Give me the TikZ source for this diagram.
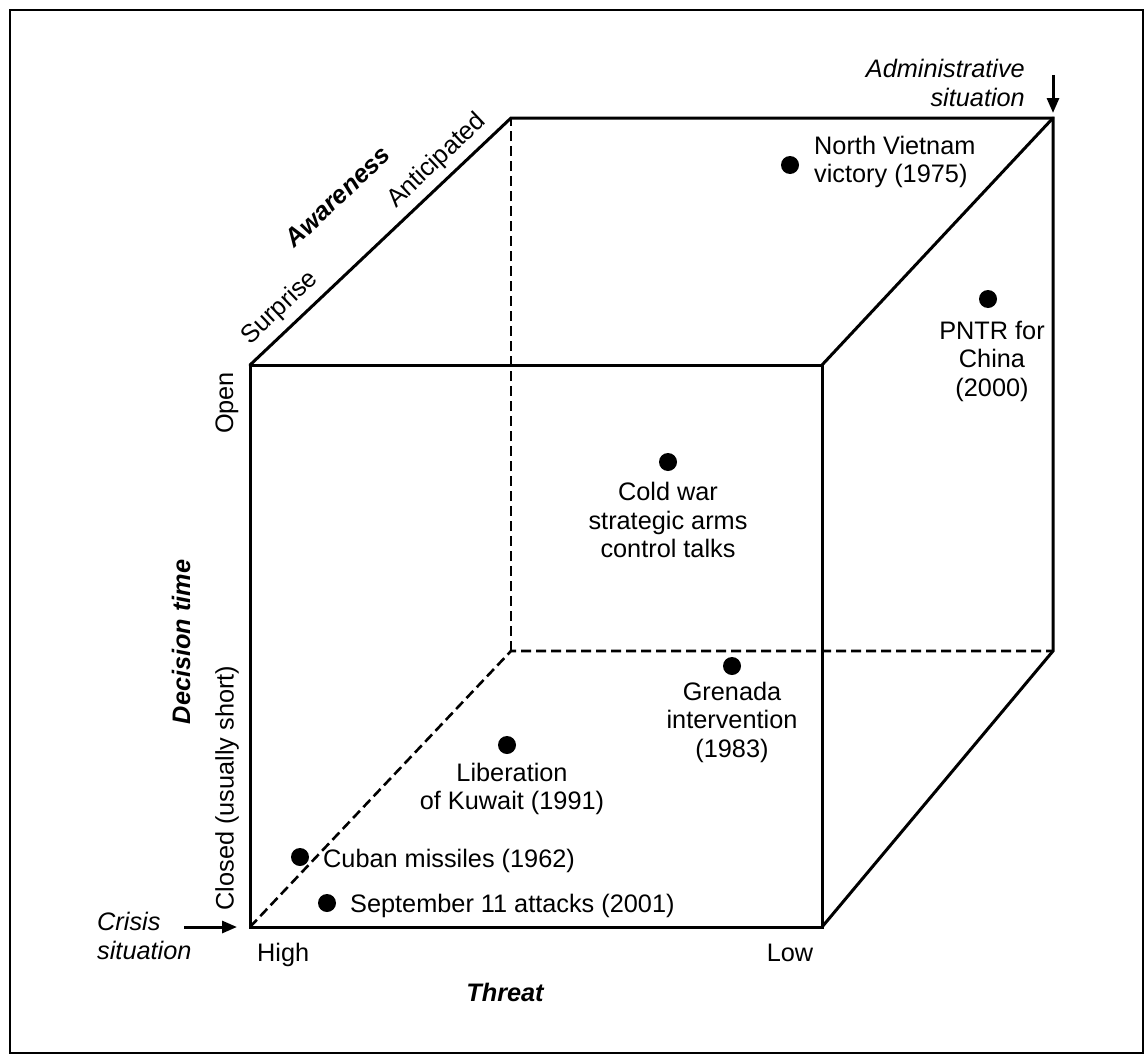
\documentclass[tikz,border=0pt]{standalone}
\usepackage{fontspec}
\setmainfont{Liberation Sans}
\usetikzlibrary{arrows.meta}
\begin{document}
\begin{tikzpicture}[x=1pt,y=-1pt,
  lbl/.style={inner sep=0pt, font=\fontsize{25.3}{28.5}\selectfont},
  ital/.style={lbl, font=\fontsize{25.3}{28.5}\selectfont\itshape},
  axis/.style={lbl, font=\fontsize{25.3}{28.5}\selectfont\bfseries\itshape},
  edge/.style={line width=3pt, line cap=round},
  hidden/.style={line width=2.6pt, dash pattern=on 10pt off 5pt},
  dot/.style={circle, fill=black, inner sep=0pt, minimum size=18pt},
  arr/.style={line width=3pt, -{Triangle[length=15pt,width=12pt]}}]
\useasboundingbox (0,0) rectangle (1146,1057);
\draw[line width=2.4pt] (10,10) rectangle (1143,1053);
% cube corners
\coordinate (F1) at (250,365);
\coordinate (F2) at (822,365);
\coordinate (F3) at (822,927);
\coordinate (F4) at (250,927);
\coordinate (B1) at (511,118);
\coordinate (B2) at (1053,118);
\coordinate (B3) at (1053,651);
\coordinate (B4) at (511,651);
% hidden edges
\draw[hidden] (F4) -- (B4) -- (B3);
\draw[hidden] (B4) -- (B1);
% visible edges
\draw[edge] (F1) -- (F2) -- (F3) -- (F4) -- cycle;
\draw[edge] (F1) -- (B1) -- (B2) -- (B3) -- (F3);
\draw[edge] (F2) -- (B2);
% axis labels
\node[lbl, rotate=43.4] (surp) at (280,308) {Surprise};
\node[lbl, rotate=43.4] (anti) at (437,161) {Anticipated};
\node[axis, rotate=43.4] (awar) at (337.5,196.5) {Awareness};
\node[lbl, rotate=90] (open) at (227,403) {Open};
\node[lbl, rotate=90] (clos) at (227,788) {Closed (usually short)};
\node[axis, rotate=90] (dect) at (181,642) {Decision time};
\node[lbl, anchor=base west] (high) at (257,961) {High};
\node[lbl, anchor=base] (low) at (790,961) {Low};
\node[axis, anchor=base] (thre) at (505,1001) {Threat};
% situations
\node[ital, align=left, anchor=west] (cris) at (97,936) {Crisis\\situation};
\coordinate (cs) at (184,927);
\draw[arr, shorten >=13pt] (cs) -- (F4);
\node[ital, align=right, anchor=east] (admi) at (1025,83) {Administrative\\situation};
\coordinate (as) at (1053,75);
\draw[arr, shorten >=5pt] (as) -- (B2);
% events
\node[dot] (d1) at (790,165) {};
\node[lbl, align=left, anchor=west] (t1) at (814,162) {North Vietnam\\victory (1975)};
\node[dot] (d2) at (988,299) {};
\node[lbl, align=center] (t2) at (992,361) {PNTR for\\China\\(2000)};
\node[dot] (d3) at (668,462) {};
\node[lbl, align=center] (t3) at (668,520) {Cold war\\strategic arms\\control talks};
\node[dot] (d4) at (732,666) {};
\node[lbl, align=center] (t4) at (732,722) {Grenada\\intervention\\(1983)};
\node[dot] (d5) at (507,745) {};
\node[lbl, align=center] (t5) at (512,789) {Liberation\\of Kuwait (1991)};
\node[dot] (d6) at (300,857) {};
\node[lbl, anchor=base west] (t6) at (323,867) {Cuban missiles (1962)};
\node[dot] (d7) at (327,903) {};
\node[lbl, anchor=base west] (t7) at (350,912) {September 11 attacks (2001)};
\end{tikzpicture}
\end{document}
